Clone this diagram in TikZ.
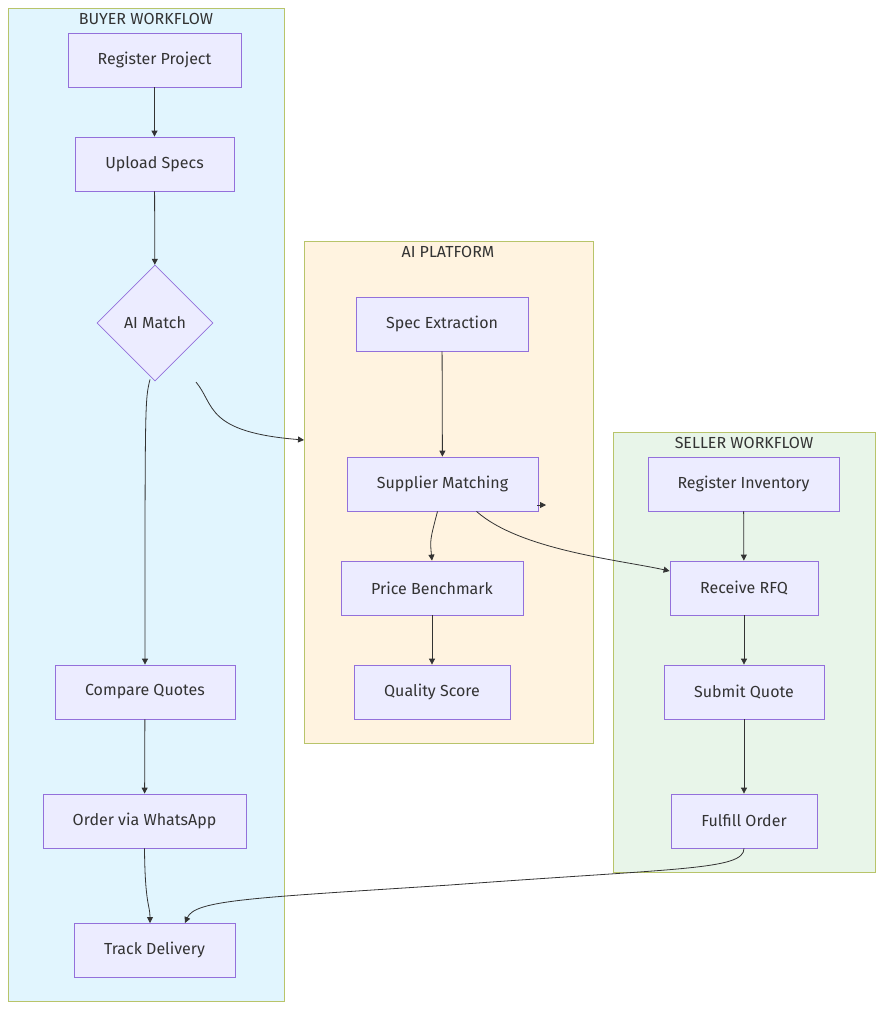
\documentclass[tikz,border=0pt]{standalone}
\usepackage{fontspec}
\setmainfont{Fira Sans}
\usetikzlibrary{arrows.meta,shapes.geometric}
\definecolor{nodefill}{HTML}{ECECFF}
\definecolor{nodeline}{HTML}{9370DB}
\definecolor{clline}{HTML}{B8C46A}
\definecolor{buyerfill}{HTML}{E1F5FE}
\definecolor{aifill}{HTML}{FFF3E0}
\definecolor{sellerfill}{HTML}{E8F5E9}
\definecolor{ink}{HTML}{333333}
\begin{document}
\begin{tikzpicture}[x=1pt,y=-1pt,
  box/.style={draw=nodeline,fill=nodefill,line width=0.8pt,font=\fontsize{16}{19}\selectfont,text=ink,inner sep=0pt},
  cl/.style={draw=clline,line width=0.8pt},
  ttl/.style={font=\fontsize{16}{19}\selectfont,text=ink},
  e/.style={draw=ink,line width=0.8pt,-{Triangle[length=6pt,width=6pt]}}]
\useasboundingbox (0,0) rectangle (883,1010);
\fill[white] (0,0) rectangle (883,1010);
\draw[cl,fill=buyerfill] (8,8) rectangle (284,1001);
\draw[cl,fill=aifill] (304,241) rectangle (593,743);
\draw[cl,fill=sellerfill] (613,432) rectangle (875,872);
\node[ttl] (tb) at (146,19) {BUYER WORKFLOW};
\node[ttl] (ta) at (448,252) {AI PLATFORM};
\node[ttl] (ts) at (744,443) {SELLER WORKFLOW};
\coordinate (aiin) at (304,440);
\node[box,minimum width=173,minimum height=54] (rp) at (154.5,60) {Register Project};
\node[box,minimum width=159,minimum height=54] (us) at (154.5,164) {Upload Specs};
\node[box,diamond,minimum width=116,minimum height=116] (am) at (155,323) {AI Match};
\node[box,minimum width=180,minimum height=54] (cq) at (145,692) {Compare Quotes};
\node[box,minimum width=203,minimum height=54] (ow) at (144.5,821) {Order via WhatsApp};
\node[box,minimum width=161,minimum height=54] (td) at (154.5,950) {Track Delivery};
\node[box,minimum width=172,minimum height=54] (se) at (442,324) {Spec Extraction};
\node[box,minimum width=191,minimum height=54] (sm) at (442.5,484) {Supplier Matching};
\node[box,minimum width=182,minimum height=54] (pb) at (432,588) {Price Benchmark};
\node[box,minimum width=156,minimum height=54] (qs) at (432,692) {Quality Score};
\node[box,minimum width=191,minimum height=54] (ri) at (743.5,484) {Register Inventory};
\node[box,minimum width=148,minimum height=54] (rf) at (744,588) {Receive RFQ};
\node[box,minimum width=160,minimum height=54] (sq) at (744,692) {Submit Quote};
\node[box,minimum width=146,minimum height=54] (fo) at (744,821) {Fulfill Order};
\draw[e] (rp) -- (us);
\draw[e] (us) -- (am);
\draw[e] (am.south) ++(-5,-2) .. controls (145,400) .. (cq.north);
\draw[e] (196,382) .. controls (215,405) and (205,432) .. (aiin);
\draw[e] (se) -- (sm);
\draw[e] (sm.south) ++(-5,0) .. controls (430,540) .. (pb.north);
\draw[e] (sm.south) ++(34,0) .. controls (520,550) and (620,560) .. (rf.west |- 0,571);
\draw[e] (537,505) -- (546,505);
\draw[e] (pb) -- (qs);
\draw[e] (ri) -- (rf);
\draw[e] (rf) -- (sq);
\draw[e] (sq) -- (fo);
\draw[e] (cq) -- (ow);
\draw[e] (ow.south) .. controls (145,905) and (150,905) .. (150,923);
\draw[e] (fo.south) .. controls (744,870) and (680,868) .. (450,885) .. controls (250,898) and (195,900) .. (185,923);
\end{tikzpicture}
\end{document}
